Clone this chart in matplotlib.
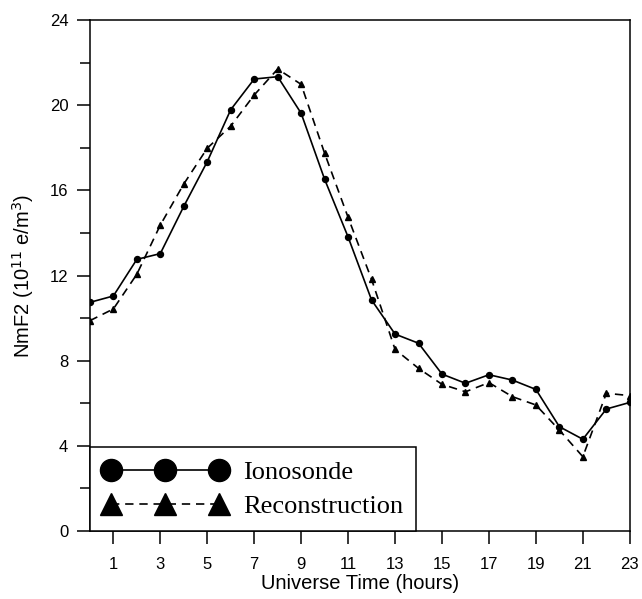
import matplotlib
matplotlib.use('Agg')
import matplotlib.pyplot as plt
from matplotlib.ticker import MultipleLocator

# universal time (hours)
hours = list(range(24))
# NmF2 values (10^11 e/m^3)
ionosonde = [10.74, 11.04, 12.76, 13.03, 15.25, 17.35, 19.79, 21.23, 21.34, 19.62, 16.52, 13.81,
             10.85, 9.25, 8.82, 7.37, 6.94, 7.34, 7.09, 6.65, 4.90, 4.31, 5.73, 6.04]
reconstruction = [9.88, 10.43, 12.06, 14.37, 16.30, 17.98, 19.02, 20.48, 21.70, 20.98, 17.74, 14.73,
                  11.82, 8.53, 7.64, 6.89, 6.54, 6.97, 6.31, 5.92, 4.74, 3.49, 6.47, 6.36]
xtick_pos = [1, 3, 5, 7, 9, 11, 13, 15, 17, 19, 21, 23]

plt.rcParams['font.family'] = ['Liberation Sans', 'DejaVu Sans']

fig = plt.figure(figsize=(6.42, 5.99), dpi=100)
ax = fig.add_axes([0.140, 0.1135, 0.841, 0.853])

ax.plot(hours, ionosonde, 'k-', marker='o', markersize=4.3, lw=1.2, label='Ionosonde')
ax.plot(hours, reconstruction, 'k', linestyle=(0, (5, 3.5)), marker='^', markersize=4.3, lw=1.2,
        label='Reconstruction')

ax.set_xlim(0, 23)
ax.set_ylim(0, 24)
ax.set_xticks(xtick_pos)
ax.yaxis.set_major_locator(MultipleLocator(4))
ax.yaxis.set_minor_locator(MultipleLocator(2))
ax.tick_params(which='major', direction='out', length=9.5, width=1.1, labelsize=12, pad=6)
ax.tick_params(which='minor', direction='out', length=7.5, width=1.1)
ax.tick_params(axis='x', pad=9)
for s in ax.spines.values():
    s.set_linewidth(1.1)

ax.set_xlabel('Universe Time (hours)', fontsize=14.5, labelpad=2)
ax.set_ylabel('NmF2 (10$^{11}$ e/m$^3$)', fontsize=14.5, labelpad=10)

leg = ax.legend(loc='lower left', bbox_to_anchor=(0, 0), borderaxespad=0, numpoints=3,
                markerscale=3.7, handlelength=4.7, handletextpad=0.6, borderpad=0.5,
                labelspacing=0.4, fancybox=False, framealpha=1, edgecolor='black',
                prop={'family': 'Liberation Serif', 'size': 19})
leg.get_frame().set_linewidth(1.1)

fig.savefig('out.png', dpi=100)
